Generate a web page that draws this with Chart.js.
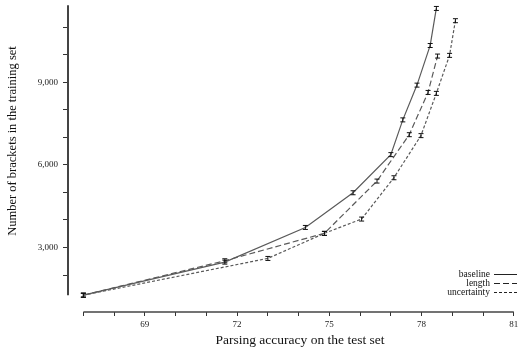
<!DOCTYPE html>
<html>
<head>
<meta charset="utf-8">
<script src="https://cdn.jsdelivr.net/npm/chart.js@4.4.0/dist/chart.umd.min.js"></script>
<style>
  html, body { margin: 0; padding: 0; background: #fff; }
  #wrap { width: 519px; height: 349px; }
</style>
</head>
<body>
<div id="wrap"><canvas id="chart" width="519" height="349"></canvas></div>
<script>
// accuracy (x) and training-set size (y) for each run
var baselineAcc = [67.0, 71.6, 74.22, 75.77, 77.0, 77.39, 77.85, 78.28, 78.48];
var baselineBrackets = [1270, 2470, 3730, 4990, 6375, 7637, 8900, 10340, 11685];
var lengthAcc = [67.0, 71.6, 74.84, 76.55, 77.6, 78.21, 78.52];
var lengthBrackets = [1270, 2520, 3516, 5415, 7100, 8634, 9955];
var uncertaintyAcc = [67.0, 73.0, 74.84, 76.05, 77.1, 77.98, 78.48, 78.91, 79.1];
var uncertaintyBrackets = [1270, 2605, 3516, 4035, 5535, 7066, 8600, 9980, 11240];

var xTicks = [67, 68, 69, 70, 71, 72, 73, 74, 75, 76, 77, 78, 79, 80, 81];
var xLabels = [69, 72, 75, 78, 81];
var yTicks = [2000, 3000, 4000, 5000, 6000, 7000, 8000, 9000, 10000, 11000];
var yLabels = [3000, 6000, 9000];

var xTitle = 'Parsing accuracy on the test set';
var yTitle = 'Number of brackets in the training set';

var serif = '"Liberation Serif", "DejaVu Serif", serif';

function toPoints(xs, ys) {
    return xs.map(function(x, i) { return { x: x, y: ys[i] }; });
}

// small "I" shaped error-bar marker
function errorBar(h) {
    var c = document.createElement('canvas');
    c.width = 7; c.height = h + 2;
    var g = c.getContext('2d');
    g.strokeStyle = '#111';
    g.lineWidth = 1;
    g.beginPath();
    g.moveTo(1, 1.5); g.lineTo(6, 1.5);
    g.moveTo(3.5, 1.5); g.lineTo(3.5, h + 0.5);
    g.moveTo(1, h + 0.5); g.lineTo(6, h + 0.5);
    g.stroke();
    return c;
}
var marker = errorBar(5);

// axis lines, axis titles and the legend in the lower right corner
var frame = {
    id: 'frame',
    afterDraw: function(chart) {
        var ctx = chart.ctx;
        var xs = chart.scales.x, ys = chart.scales.y, area = chart.chartArea;
        ctx.save();
        ctx.strokeStyle = '#444';
        ctx.lineWidth = 2;
        ctx.beginPath();
        ctx.moveTo(area.left, area.top);
        ctx.lineTo(area.left, ys.getPixelForValue(baselineBrackets[0]));
        ctx.stroke();
        ctx.lineWidth = 1.5;
        ctx.beginPath();
        ctx.moveTo(xs.getPixelForValue(xTicks[0]), area.bottom);
        ctx.lineTo(area.right, area.bottom);
        ctx.stroke();

        ctx.fillStyle = '#111';
        ctx.textAlign = 'center';
        ctx.textBaseline = 'middle';
        ctx.font = '13.5px ' + serif;
        ctx.fillText(xTitle, 300, 340);
        ctx.save();
        ctx.translate(13, 141);
        ctx.rotate(-Math.PI / 2);
        ctx.font = '12.5px ' + serif;
        ctx.fillText(yTitle, 0, 0);
        ctx.restore();

        ctx.font = '9.5px ' + serif;
        ctx.textAlign = 'right';
        chart.data.datasets.forEach(function(ds, i) {
            var y = 274 + i * 9;
            ctx.fillStyle = '#111';
            ctx.fillText(ds.label, 490, y);
            ctx.strokeStyle = '#222';
            ctx.lineWidth = 1;
            ctx.setLineDash(ds.borderDash || []);
            ctx.beginPath();
            ctx.moveTo(494, y + 0.5);
            ctx.lineTo(517, y + 0.5);
            ctx.stroke();
            ctx.setLineDash([]);
        });
        ctx.restore();
    }
};

function line(label, xs, ys, dash) {
    return {
        label: label,
        data: toPoints(xs, ys),
        borderColor: '#5a5a5a',
        borderWidth: 1.2,
        borderDash: dash,
        pointStyle: marker,
        pointRadius: 3,
        tension: 0,
        fill: false
    };
}

new Chart(document.getElementById('chart'), {
    type: 'line',
    data: {
        datasets: [
            line('baseline', baselineAcc, baselineBrackets, []),
            line('length', lengthAcc, lengthBrackets, [6, 3]),
            line('uncertainty', uncertaintyAcc, uncertaintyBrackets, [3, 2])
        ]
    },
    options: {
        responsive: false,
        animation: false,
        layout: { padding: { top: 3, right: 2, left: 0, bottom: 0 } },
        plugins: { legend: { display: false }, tooltip: { enabled: false } },
        scales: {
            x: {
                type: 'linear',
                min: 66.5,
                max: 81,
                border: { display: false },
                grid: { drawOnChartArea: false, tickLength: 4, color: '#333' },
                afterBuildTicks: function(s) {
                    s.ticks = xTicks.map(function(v) { return { value: v }; });
                },
                afterFit: function(s) {
                    s.height = 37;
                    s.paddingLeft = 0; s.paddingRight = 0;
                },
                ticks: {
                    autoSkip: false,
                    maxRotation: 0,
                    padding: 3,
                    color: '#222',
                    font: { family: serif, size: 9 },
                    callback: function(v) { return xLabels.indexOf(v) >= 0 ? String(v) : ''; }
                }
            },
            y: {
                type: 'linear',
                min: 658,
                max: 11802,
                border: { display: false },
                grid: { drawOnChartArea: false, tickLength: 5, color: '#333' },
                afterBuildTicks: function(s) {
                    s.ticks = yTicks.map(function(v) { return { value: v }; });
                },
                afterFit: function(s) {
                    s.width = 68;
                    s.paddingTop = 0; s.paddingBottom = 0;
                },
                ticks: {
                    autoSkip: false,
                    padding: 5,
                    color: '#222',
                    font: { family: serif, size: 9 },
                    callback: function(v) { return yLabels.indexOf(v) >= 0 ? v.toLocaleString('en-US') : ''; }
                }
            }
        }
    },
    plugins: [frame]
});
</script>
</body>
</html>
